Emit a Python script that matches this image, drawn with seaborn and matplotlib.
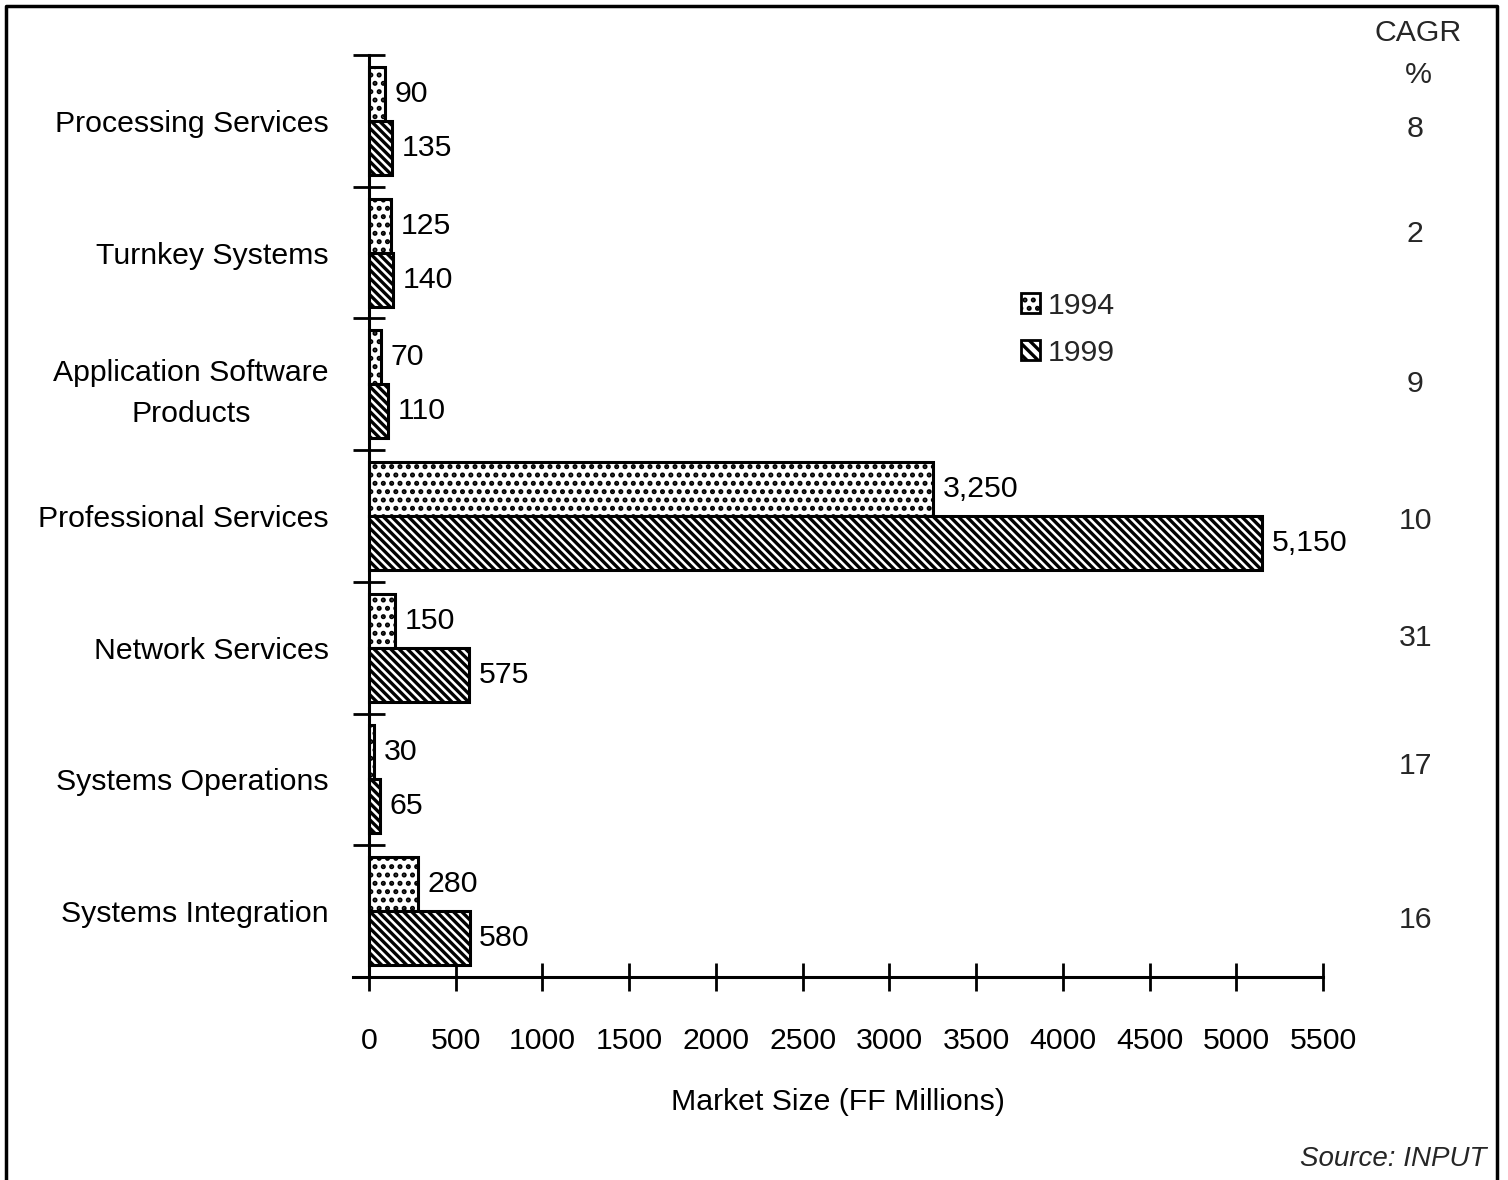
import matplotlib.pyplot as plt
import matplotlib.patches as mpatches
from matplotlib.lines import Line2D
import seaborn as sns
import numpy as np
import pandas as pd

# ── data ──
segments = ['Processing Services', 'Turnkey Systems', 'Application Software\nProducts',
            'Professional Services', 'Network Services', 'Systems Operations',
            'Systems Integration']
years = ['1994', '1999']
size_1994 = [90, 125, 70, 3250, 150, 30, 280]
size_1999 = [135, 140, 110, 5150, 575, 65, 580]
cagr = [8, 2, 9, 10, 31, 17, 16]
x_ticks = [0, 500, 1000, 1500, 2000, 2500, 3000, 3500, 4000, 4500, 5000, 5500]

df = pd.DataFrame({
    'segment': segments * 2,
    'year': [years[0]] * len(segments) + [years[1]] * len(segments),
    'value': size_1994 + size_1999,
})

sns.set_theme(style='white')
plt.rcParams['font.family'] = ['Liberation Sans', 'DejaVu Sans']
plt.rcParams['hatch.linewidth'] = 2.4
plt.rcParams['hatch.color'] = 'black'
FS = 21.8

fig = plt.figure(figsize=(15.08, 11.8), dpi=100)
fig.patch.set_facecolor('white')
ax = fig.add_axes([353 / 1508, 1 - 977 / 1180, 970 / 1508, 922 / 1180])

sns.barplot(data=df, y='segment', x='value', hue='year', hue_order=years,
            order=segments, orient='h', width=0.82, palette=['white', 'white'],
            saturation=1, edgecolor='black', linewidth=2.2, legend=False, ax=ax)

hatches = ['..', '\\\\\\\\']
for cont, h in zip(ax.containers, hatches):
    for bar in cont:
        bar.set_hatch(h)
        bar.set_facecolor('white')
        bar.set_edgecolor('black')
    ax.bar_label(cont, labels=[f'{v:,.0f}' for v in cont.datavalues],
                 padding=7, fontsize=FS, color='black')

ax.set_xlim(-92, 5500)
ax.set_ylim(6.5, -0.5)
for s in ['top', 'right']:
    ax.spines[s].set_visible(False)
ax.spines['left'].set_position(('data', 0))
for s in ['left', 'bottom']:
    ax.spines[s].set_linewidth(2.2)
    ax.spines[s].set_color('black')

ax.set_xticks(x_ticks)
ax.set_xticklabels([str(t) for t in x_ticks])
ax.tick_params(axis='x', direction='inout', length=20, width=2, pad=26,
               labelsize=FS, colors='black', bottom=True)
ax.set_yticks(np.arange(-0.5, len(segments), 1), minor=True)
ax.tick_params(axis='y', which='minor', direction='inout', length=23, width=2,
               left=True, color='black')
ax.tick_params(axis='y', which='major', length=0, pad=29, labelsize=FS,
               colors='black')
for lab in ax.get_yticklabels():
    lab.set_multialignment('center')
    lab.set_linespacing(1.6)

ax.set_xlabel('Market Size (FF Millions)', fontsize=FS, color='black', labelpad=24)
ax.set_ylabel('')

# CAGR column (text placed roughly as in the original, slightly off-centre)
fig.text(1418 / 1508, 1 - 33 / 1180, 'CAGR', ha='center', va='center', fontsize=FS)
fig.text(1418 / 1508, 1 - 75 / 1180, '%', ha='center', va='center', fontsize=FS)
cagr_pos = [0.06, 0.86, 2.0, 3.04, 3.93, 4.9, 6.07]
for y, c in zip(cagr_pos, cagr):
    ax.text(1.095, y, str(c), transform=ax.get_yaxis_transform(), ha='center',
            va='center', fontsize=FS, clip_on=False)

# legend
handles = [mpatches.Patch(facecolor='white', edgecolor='black', linewidth=2,
                          hatch=h, label=y) for h, y in zip(['..', '\\\\\\'], years)]
ax.legend(handles=handles, loc='upper left', bbox_to_anchor=(0.689, 0.743),
          frameon=False, fontsize=FS, handlelength=0.62, handleheight=0.62,
          handletextpad=0.25, labelspacing=0.62, borderpad=0, borderaxespad=0)

fig.text(1487 / 1508, 1 - 1159 / 1180, 'Source: INPUT', ha='right', va='center',
         fontsize=20, style='italic')

# page frame
fig.add_artist(Line2D([6 / 1508, 6 / 1508, 1497 / 1508, 1497 / 1508],
                      [0, 1 - 6 / 1180, 1 - 6 / 1180, 0],
                      transform=fig.transFigure, color='black', linewidth=2.5))

fig.savefig('out.png', dpi=100, facecolor='white')
plt.close()
